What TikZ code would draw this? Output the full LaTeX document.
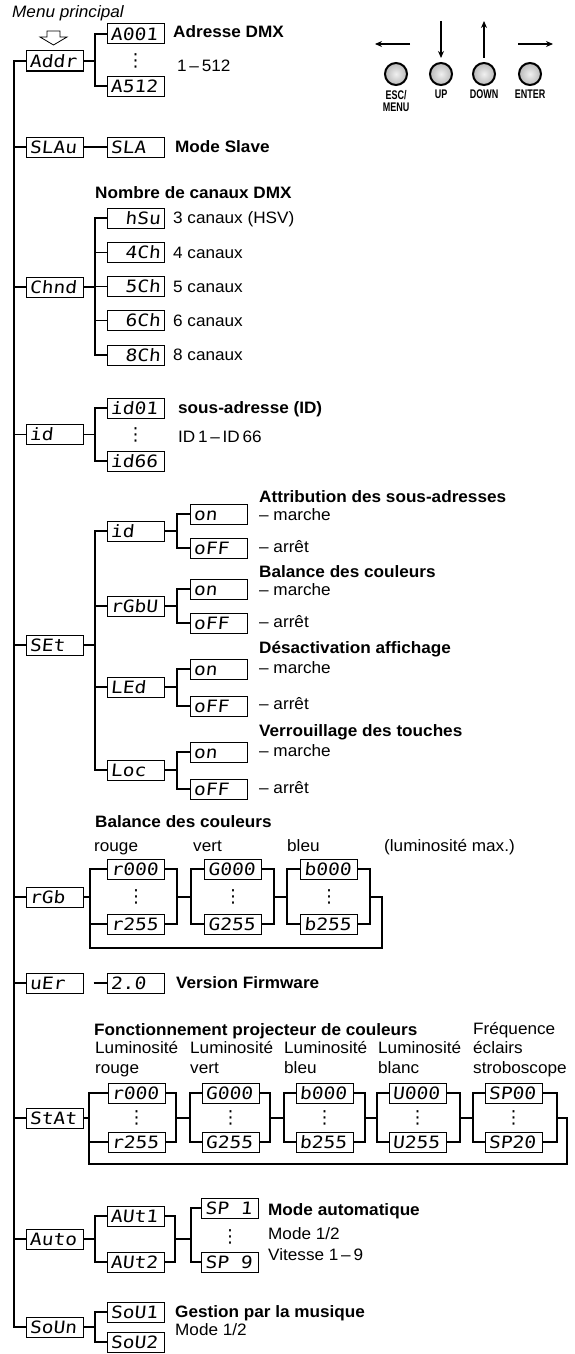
\documentclass[tikz,border=0pt]{standalone}
\usepackage{fontspec}
\setmainfont{Liberation Sans}[FakeStretch=1.04]
\newfontfamily\ledfont{DejaVu Sans Mono}[FakeStretch=1.15,FakeSlant=0.1]
\newfontfamily\btnfont{Liberation Sans}[FakeStretch=0.72]
\newfontfamily\symfont{DejaVu Sans}
\usetikzlibrary{arrows.meta}
\newcommand\ledl[1]{\makebox[50pt][l]{#1}}
\newcommand\ledr[1]{\makebox[50pt][r]{#1}}
\tikzset{
  led/.style={draw, line width=1pt, minimum width=57pt, minimum height=20pt, inner sep=0pt,
    text height=12.4pt, text depth=0pt, font=\ledfont\fontsize{17}{17}\selectfont},
  lab/.style={anchor=west, inner sep=0pt, text height=11.8pt, text depth=0pt, font=\fontsize{16.5}{18}\selectfont},
  blab/.style={lab, font=\bfseries\fontsize{16.5}{18}\selectfont},
  ilab/.style={lab, font=\itshape\fontsize{16.5}{18}\selectfont},
  wire/.style={line width=1.1pt},
  mainwire/.style={line width=1.4pt},
  vdots/.style={inner sep=0pt, font=\symfont\fontsize{18}{18}\selectfont},
  btn/.style={circle, draw, line width=2pt, minimum size=22pt, inner sep=0pt,
    inner color=gray!12, outer color=gray!55},
  btnlab/.style={anchor=north, inner sep=0pt, align=center, font=\btnfont\bfseries\fontsize{12.5}{12.5}\selectfont},
  arr/.style={line width=1.1pt, -{Stealth[length=7pt,width=6pt]}},
}
\begin{document}
\begin{tikzpicture}[x=1pt,y=-1pt]
\fill[white] (0,0) rectangle (575,1354);
\useasboundingbox (0,0) rectangle (575,1354);

% ---------- header ----------
\node[ilab] (menu) at (12,12) {Menu principal};
\draw[line width=0.8pt] (47,31) -- (60,31) -- (60,37) -- (67,37) -- (53.5,45) -- (40,37) -- (47,37) -- cycle;

% buttons
\node[btn] (bEsc) at (396,74) {};
\node[btn] (bUp) at (441,74) {};
\node[btn] (bDown) at (484,74) {};
\node[btn] (bEnter) at (530,74) {};
\node[btnlab] (lEsc) at (396,90) {ESC/\\MENU};
\node[btnlab] (lUp) at (441,90) {UP};
\node[btnlab] (lDown) at (484,90) {DOWN};
\node[btnlab] (lEnter) at (530,90) {ENTER};
\coordinate (aL1) at (410,44); \coordinate (aL2) at (375,44);
\coordinate (aD1) at (441,21); \coordinate (aD2) at (441,58);
\coordinate (aU1) at (484,58); \coordinate (aU2) at (484,21);
\coordinate (aR1) at (518,44); \coordinate (aR2) at (553,44);
\draw[arr] (aL1) -- (aL2);
\draw[arr] (aD1) -- (aD2);
\draw[arr] (aU1) -- (aU2);
\draw[arr] (aR1) -- (aR2);

% ---------- main column ----------
\node[led] (addr) at (54.5,61) {\ledl{Addr}};
\node[led] (slau) at (54.5,147) {\ledl{SLAu}};
\node[led] (chnd) at (54.5,287) {\ledl{Chnd}};
\node[led] (id) at (54.5,434.5) {\ledl{id}};
\node[led] (set) at (54.5,645) {\ledl{SEt}};
\node[led] (rgb) at (54.5,897) {\ledl{rGb}};
\node[led] (ver) at (54.5,983) {\ledl{uEr}};
\node[led] (stat) at (54.5,1118) {\ledl{StAt}};
\node[led] (auto) at (54.5,1239) {\ledl{Auto}};
\node[led] (soun) at (54.5,1327) {\ledl{SoUn}};

\coordinate (mtop) at (14,61);
\coordinate (mbot) at (14,1327);
\draw[mainwire] (addr.west) -- (mtop) -- (mbot) -- (soun.west);
\foreach \n in {slau,chnd,id,set,rgb,ver,stat,auto}
  \draw[wire] (\n.west) -- (\n.west -| mtop);

% ---------- Addr ----------
\node[led] (a001) at (135.5,34) {\ledl{A001}};
\node[led] (a512) at (135.5,86) {\ledl{A512}};
\node[vdots] (adots) at (135.5,61) {⋮};
\coordinate (abr) at (95,61);
\draw[wire] (addr.east) -- (abr);
\draw[wire] (a001.west) -| (abr) |- (a512.west);
\node[blab] (tAddr) at (173,32) {Adresse DMX};
\node[lab] (tAddr2) at (177,66) {1\,–\,512};

% ---------- SLAu ----------
\node[led] (sla) at (135.5,147) {\ledl{SLA}};
\draw[wire] (slau.east) -- (sla.west);
\node[blab] (tSla) at (175,147) {Mode Slave};

% ---------- Chnd ----------
\node[blab] (tChnd) at (95,193) {Nombre de canaux DMX};
\node[led] (c3) at (135.5,218) {\ledr{hSu}};
\node[led] (c4) at (135.5,252.25) {\ledr{4Ch}};
\node[led] (c5) at (135.5,286.5) {\ledr{5Ch}};
\node[led] (c6) at (135.5,320.75) {\ledr{6Ch}};
\node[led] (c8) at (135.5,355) {\ledr{8Ch}};
\coordinate (cbr) at (95,287);
\draw[wire] (chnd.east) -- (cbr);
\draw[wire] (c3.west) -| (cbr) |- (c8.west);
\draw[wire] (c4.west) -- (c4.west -| cbr);
\draw[wire] (c5.west) -- (c5.west -| cbr);
\draw[wire] (c6.west) -- (c6.west -| cbr);
\node[lab] (t3) at (173,218) {3 canaux (HSV)};
\node[lab] (t4) at (173,252.25) {4 canaux};
\node[lab] (t5) at (173,286.5) {5 canaux};
\node[lab] (t6) at (173,320.75) {6 canaux};
\node[lab] (t8) at (173,355) {8 canaux};

% ---------- id ----------
\node[led] (id01) at (135.5,408) {\ledl{id01}};
\node[led] (id66) at (135.5,461) {\ledl{id66}};
\node[vdots] (iddots) at (135.5,435) {⋮};
\coordinate (ibr) at (95,434.5);
\draw[wire] (id.east) -- (ibr);
\draw[wire] (id01.west) -| (ibr) |- (id66.west);
\node[blab] (tId) at (178,408) {sous-adresse (ID)};
\node[lab] (tId2) at (178,437) {ID\,1\,–\,ID\,66};

% ---------- SEt ----------
\node[led] (sid) at (135.5,531) {\ledl{id}};
\node[led] (srgbu) at (135.5,606) {\ledl{rGbU}};
\node[led] (sled) at (135.5,687) {\ledl{LEd}};
\node[led] (sloc) at (135.5,770) {\ledl{Loc}};
\coordinate (sbr) at (95,645);
\draw[wire] (set.east) -- (sbr);
\draw[wire] (sid.west) -| (sbr) |- (sloc.west);
\draw[wire] (srgbu.west) -- (srgbu.west -| sbr);
\draw[wire] (sled.west) -- (sled.west -| sbr);

\node[led] (on1) at (218.5,514) {\ledl{on}};
\node[led] (off1) at (218.5,548) {\ledl{oFF}};
\node[led] (on2) at (218.5,589) {\ledl{on}};
\node[led] (off2) at (218.5,623) {\ledl{oFF}};
\node[led] (on3) at (218.5,669) {\ledl{on}};
\node[led] (off3) at (218.5,706) {\ledl{oFF}};
\node[led] (on4) at (218.5,752) {\ledl{on}};
\node[led] (off4) at (218.5,789) {\ledl{oFF}};
\coordinate (b1) at (177,531);
\coordinate (b2) at (177,606);
\coordinate (b3) at (177,687);
\coordinate (b4) at (177,770);
\draw[wire] (sid.east) -- (b1);
\draw[wire] (on1.west) -| (b1) |- (off1.west);
\draw[wire] (srgbu.east) -- (b2);
\draw[wire] (on2.west) -| (b2) |- (off2.west);
\draw[wire] (sled.east) -- (b3);
\draw[wire] (on3.west) -| (b3) |- (off3.west);
\draw[wire] (sloc.east) -- (b4);
\draw[wire] (on4.west) -| (b4) |- (off4.west);

\node[blab] (ts1) at (259,497) {Attribution des sous-adresses};
\node[lab] (ts1a) at (259,515) {– marche};
\node[lab] (ts1b) at (259,547) {– arrêt};
\node[blab] (ts2) at (259,572) {Balance des couleurs};
\node[lab] (ts2a) at (259,590) {– marche};
\node[lab] (ts2b) at (259,622) {– arrêt};
\node[blab] (ts3) at (259,648) {Désactivation affichage};
\node[lab] (ts3a) at (259,668) {– marche};
\node[lab] (ts3b) at (259,704) {– arrêt};
\node[blab] (ts4) at (259,731) {Verrouillage des touches};
\node[lab] (ts4a) at (259,751) {– marche};
\node[lab] (ts4b) at (259,788) {– arrêt};

% ---------- rGb ----------
\node[blab] (tRgb) at (95,822) {Balance des couleurs};
\node[lab] (tRgbR) at (94,846) {rouge};
\node[lab] (tRgbG) at (193,846) {vert};
\node[lab] (tRgbB) at (287,846) {bleu};
\node[lab] (tRgbM) at (384,846) {(luminosité max.)};
\node[led] (rr0) at (136,869) {\ledl{r000}};
\node[led] (rr1) at (136,924) {\ledl{r255}};
\node[led] (rg0) at (233,869) {\ledl{G000}};
\node[led] (rg1) at (233,924) {\ledl{G255}};
\node[led] (rb0) at (329,869) {\ledl{b000}};
\node[led] (rb1) at (329,924) {\ledl{b255}};
\node[vdots] (rd1) at (136,897) {⋮};
\node[vdots] (rd2) at (233,897) {⋮};
\node[vdots] (rd3) at (329,897) {⋮};
\coordinate (rl1) at (90,897); \coordinate (rr1c) at (177,897);
\coordinate (rl2) at (191,897); \coordinate (rr2c) at (274,897);
\coordinate (rl3) at (287,897); \coordinate (rr3c) at (370,897);
\coordinate (rlpA) at (382,897); \coordinate (rlpB) at (382,948); \coordinate (rlpC) at (90,948);
\draw[wire] (rgb.east) -- (rl1);
\draw[wire] (rr0.west) -| (rl1) |- (rr1.west);
\draw[wire] (rr0.east) -| (rr1c) |- (rr1.east);
\draw[wire] (rr1c) -- (rl2);
\draw[wire] (rg0.west) -| (rl2) |- (rg1.west);
\draw[wire] (rg0.east) -| (rr2c) |- (rg1.east);
\draw[wire] (rr2c) -- (rl3);
\draw[wire] (rb0.west) -| (rl3) |- (rb1.west);
\draw[wire] (rb0.east) -| (rr3c) |- (rb1.east);
\draw[wire] (rr3c) -- (rlpA) -- (rlpB) -- (rlpC) -- (rl1);

% ---------- uEr ----------
\node[led] (v20) at (135.5,983) {\ledl{2.0}};
\draw[wire] ([xshift=10pt]ver.east) -- (v20.west);
\node[blab] (tVer) at (176,983) {Version Firmware};

% ---------- StAt ----------
\node[blab] (tStat) at (94,1030) {Fonctionnement projecteur de couleurs};
\node[lab] (tF1) at (473,1029) {Fréquence};
\node[lab] (tF2) at (473,1048) {éclairs};
\node[lab] (tF3) at (473,1068) {stroboscope};
\node[lab] (tL1) at (95,1048) {Luminosité};
\node[lab] (tL1b) at (95,1068) {rouge};
\node[lab] (tL2) at (190,1048) {Luminosité};
\node[lab] (tL2b) at (190,1068) {vert};
\node[lab] (tL3) at (284,1048) {Luminosité};
\node[lab] (tL3b) at (284,1068) {bleu};
\node[lab] (tL4) at (378,1048) {Luminosité};
\node[lab] (tL4b) at (378,1068) {blanc};

\node[led] (sr0) at (136.5,1093) {\ledl{r000}};
\node[led] (sr1) at (136.5,1142) {\ledl{r255}};
\node[led] (sg0) at (230.5,1093) {\ledl{G000}};
\node[led] (sg1) at (230.5,1142) {\ledl{G255}};
\node[led] (sb0) at (324.5,1093) {\ledl{b000}};
\node[led] (sb1) at (324.5,1142) {\ledl{b255}};
\node[led] (sw0) at (417.5,1093) {\ledl{U000}};
\node[led] (sw1) at (417.5,1142) {\ledl{U255}};
\node[led] (sp0) at (513.5,1093) {\ledl{SP00}};
\node[led] (sp1) at (513.5,1142) {\ledl{SP20}};
\node[vdots] (sd1) at (136.5,1118) {⋮};
\node[vdots] (sd2) at (230.5,1118) {⋮};
\node[vdots] (sd3) at (324.5,1118) {⋮};
\node[vdots] (sd4) at (417.5,1118) {⋮};
\node[vdots] (sd5) at (513.5,1118) {⋮};
\coordinate (sl1) at (89,1118); \coordinate (sr1c) at (176,1118);
\coordinate (sl2) at (190,1118); \coordinate (sr2c) at (270,1118);
\coordinate (sl3) at (284,1118); \coordinate (sr3c) at (365,1118);
\coordinate (sl4) at (377,1118); \coordinate (sr4c) at (460,1118);
\coordinate (sl5) at (473,1118); \coordinate (sr5c) at (557,1118);
\coordinate (slpA) at (567,1118); \coordinate (slpB) at (567,1164); \coordinate (slpC) at (89,1164);
\draw[wire] (stat.east) -- (sl1);
\draw[wire] (sr0.west) -| (sl1) |- (sr1.west);
\draw[wire] (sr0.east) -| (sr1c) |- (sr1.east);
\draw[wire] (sr1c) -- (sl2);
\draw[wire] (sg0.west) -| (sl2) |- (sg1.west);
\draw[wire] (sg0.east) -| (sr2c) |- (sg1.east);
\draw[wire] (sr2c) -- (sl3);
\draw[wire] (sb0.west) -| (sl3) |- (sb1.west);
\draw[wire] (sb0.east) -| (sr3c) |- (sb1.east);
\draw[wire] (sr3c) -- (sl4);
\draw[wire] (sw0.west) -| (sl4) |- (sw1.west);
\draw[wire] (sw0.east) -| (sr4c) |- (sw1.east);
\draw[wire] (sr4c) -- (sl5);
\draw[wire] (sp0.west) -| (sl5) |- (sp1.west);
\draw[wire] (sp0.east) -| (sr5c) |- (sp1.east);
\draw[wire] (sr5c) -- (slpA) -- (slpB) -- (slpC) -- (sl1);

% ---------- Auto ----------
\node[led] (aut1) at (135.5,1216) {\ledl{AUt1}};
\node[led] (aut2) at (135.5,1262) {\ledl{AUt2}};
\node[led] (spa) at (230,1208) {\ledl{SP 1}};
\node[led] (spb) at (230,1262) {\ledl{SP 9}};
\node[vdots] (spd) at (230,1237) {⋮};
\coordinate (al) at (95,1239);
\coordinate (ar) at (175,1239);
\coordinate (asl) at (191,1239);
\draw[wire] (auto.east) -- (al);
\draw[wire] (aut1.west) -| (al) |- (aut2.west);
\draw[wire] (aut1.east) -| (ar) |- (aut2.east);
\draw[wire] (ar) -- (asl);
\draw[wire] (spa.west) -| (asl) |- (spb.west);
\node[blab] (tAuto) at (268,1210) {Mode automatique};
\node[lab] (tAuto2) at (268,1234) {Mode 1/2};
\node[lab] (tAuto3) at (268,1255) {Vitesse 1\,–\,9};

% ---------- SoUn ----------
\node[led] (sou1) at (135.5,1312) {\ledl{SoU1}};
\node[led] (sou2) at (135.5,1342) {\ledl{SoU2}};
\coordinate (sobr) at (95,1327);
\draw[wire] (soun.east) -- (sobr);
\draw[wire] (sou1.west) -| (sobr) |- (sou2.west);
\node[blab] (tSou) at (175,1312) {Gestion par la musique};
\node[lab] (tSou2) at (175,1330) {Mode 1/2};
\end{tikzpicture}
\end{document}
